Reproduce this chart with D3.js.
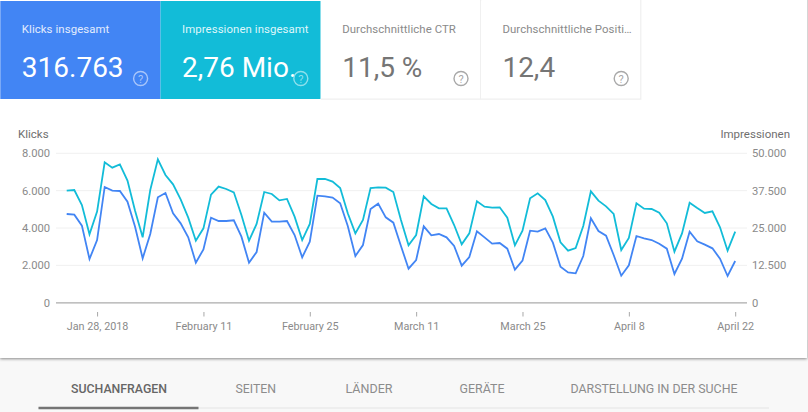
<!DOCTYPE html>
<html><head><meta charset="utf-8">
<script src="https://cdn.jsdelivr.net/npm/d3@7/dist/d3.min.js"></script>
<style>
html,body{margin:0;padding:0;background:#fff;overflow:hidden}
svg{display:block;font-family:Roboto,sans-serif}
</style></head><body><svg id="c" width="808" height="412"></svg>
<script>
const startDate = new Date(2018,0,24);
const clicks = [4750,4714,4125,2339,3357,6196,6000,5982,5411,4071,2375,3679,5643,5875,4786,4250,3500,2143,2857,4554,4375,4375,4411,3536,2143,2714,4821,4339,4339,4375,3625,2429,3268,5732,5696,5625,5321,4107,2500,3089,5018,5304,4571,4286,3036,1821,2286,4089,3607,3679,3500,3036,1982,2446,3821,3500,3161,3196,2893,1768,2250,3857,3804,3982,3214,1929,1625,1571,2500,4518,3839,3589,2554,1446,2000,3571,3446,3357,3161,2893,1536,2357,3804,3286,3107,2911,2357,1429,2232];
const impressions = [37500,37720,32700,22880,30470,46980,45200,46310,40850,30800,21870,37720,47990,42740,39620,34600,28460,20760,24890,36160,38840,38060,36940,29350,20760,26340,37050,36380,34260,34710,28790,20980,26340,41400,41400,40510,38390,29910,23210,27680,38390,38610,38500,37050,27680,19200,22650,35600,33030,31580,31580,26000,19530,23210,33930,32140,31810,31920,28460,19200,24100,34930,36600,34370,28790,20200,17410,18300,25670,37270,34150,32250,29690,17630,21650,33260,31470,31360,30130,26560,17070,23210,33480,31690,30020,30580,25220,17410,23770];
const leftTicks = [0,2000,4000,6000,8000];
const rightTicks = [0,12500,25000,37500,50000];
const dateTicks = [new Date(2018,0,28),new Date(2018,1,11),new Date(2018,1,25),new Date(2018,2,11),new Date(2018,2,25),new Date(2018,3,8),new Date(2018,3,22)];
const dateLabels = ["Jan 28, 2018","February 11","February 25","March 11","March 25","April 8","April 22"];
const cards = [
 {t:"Klicks insgesamt",v:"316.763",bg:"#4285f4",fg:"#fff",tf:"#e3ecfd",ic:"#a9c6fa"},
 {t:"Impressionen insgesamt",v:"2,76 Mio.",bg:"#12bcd8",fg:"#fff",tf:"#dff6fa",ic:"#8fe0ec"},
 {t:"Durchschnittliche CTR",v:"11,5 %",bg:"#fff",fg:"#757575",tf:"#8a8a8a",ic:"#a8a8a8"},
 {t:"Durchschnittliche Positi\u2026",v:"12,4",bg:"#fff",fg:"#757575",tf:"#8a8a8a",ic:"#a8a8a8"}];
const tabs = ["SUCHANFRAGEN","SEITEN","L\u00c4NDER","GER\u00c4TE","DARSTELLUNG IN DER SUCHE"];
const tabX = [71,235.5,345.5,459.5,570.5];
const tabW = [96,40.5,47,45,167];

const svg = d3.select("#c");
const defs = svg.append("defs");
const f = defs.append("filter").attr("id","sh").attr("x","-5%").attr("y","-5%").attr("width","110%").attr("height","110%");
f.append("feDropShadow").attr("dx",0).attr("dy",1).attr("stdDeviation",1.5).attr("flood-color","#000").attr("flood-opacity",0.45);

svg.append("rect").attr("x",0).attr("y",340).attr("width",808).attr("height",72).attr("fill","#f8f8f8");
svg.append("rect").attr("x",0).attr("y",-10).attr("width",807).attr("height",368).attr("fill","#fff").attr("filter","url(#sh)");

const cw = 160.2;
const g = svg.selectAll("g.card").data(cards).join("g").attr("class","card").attr("transform",(d,i)=>`translate(${i*cw+0.3},0)`);
g.append("rect").attr("x",0).attr("y",1).attr("width",cw).attr("height",98).attr("fill",d=>d.bg);
g.filter(d=>d.bg==="#fff").append("path").attr("d",`M${cw-0.3},0V99.2H0`).attr("fill","none").attr("stroke","#efefef").attr("stroke-width",1.2);
g.append("text").attr("x",21.5).attr("y",33).attr("font-size",11.4).attr("letter-spacing",0.08).attr("fill",d=>d.tf).text(d=>d.t);
g.append("text").attr("x",21.5).attr("y",77).attr("font-size",28).attr("fill",d=>d.fg).text(d=>d.v);
g.append("circle").attr("cx",140.3).attr("cy",78.5).attr("r",7).attr("fill","none").attr("stroke",d=>d.ic).attr("stroke-width",1.4);
g.append("text").attr("x",140.3).attr("y",82.5).attr("font-size",11).attr("text-anchor","middle").attr("fill",d=>d.ic).text("?");

const x = d3.scaleTime().domain([startDate,dateTicks[6]]).range([66.7,735.2]);
const yL = d3.scaleLinear().domain([0,8000]).range([302.7,153.3]);
const yR = d3.scaleLinear().domain([0,50000]).range([302.7,153.3]);
const dateAt = i => d3.timeDay.offset(startDate,i);

const axL = svg.append("g").attr("transform","translate(56,0)")
  .call(d3.axisLeft(yL).tickValues(leftTicks).tickSize(0).tickPadding(6).tickFormat(d=>d3.format(",")(d).replace(/,/g,".")));
axL.select(".domain").remove();
axL.selectAll("text").attr("font-family","Roboto").attr("font-size",11.2).attr("fill","#8a8a8a");
const axR = svg.append("g").attr("transform","translate(745,0)")
  .call(d3.axisRight(yR).tickValues(rightTicks).tickSize(0).tickPadding(7).tickFormat(d=>d3.format(",")(d).replace(/,/g,".")));
axR.select(".domain").remove();
axR.selectAll("text").attr("font-family","Roboto").attr("font-size",11.2).attr("fill","#8a8a8a");

svg.append("g").selectAll("line").data(leftTicks.slice(1)).join("line")
  .attr("x1",56).attr("x2",747).attr("y1",d=>yL(d)).attr("y2",d=>yL(d)).attr("stroke","#f0f0f0").attr("stroke-width",1);
svg.append("line").attr("x1",56).attr("x2",747).attr("y1",yL(0)+0.2).attr("y2",yL(0)+0.2).attr("stroke","#ababab").attr("stroke-width",1.2);

const axB = svg.append("g").attr("transform","translate(0,312)")
  .call(d3.axisBottom(x).tickValues(dateTicks).tickSize(4.5).tickPadding(6).tickFormat((d,i)=>dateLabels[i]));
axB.select(".domain").remove();
axB.selectAll("line").attr("stroke","#a8a8a8");
axB.selectAll("text").attr("font-family","Roboto").attr("font-size",10.8).attr("fill","#8a8a8a");

svg.append("text").attr("x",18).attr("y",137.5).attr("font-size",11.5).attr("fill","#6f6f6f").text("Klicks");
svg.append("text").attr("x",790).attr("y",137.5).attr("font-size",11.5).attr("text-anchor","end").attr("fill","#6f6f6f").text("Impressionen");

const lineL = d3.line().x((d,i)=>x(dateAt(i))).y(d=>yL(d));
const lineR = d3.line().x((d,i)=>x(dateAt(i))).y(d=>yR(d));
svg.append("path").datum(impressions).attr("d",lineR).attr("fill","none").attr("stroke","#12bcd8").attr("stroke-width",1.8);
svg.append("path").datum(clicks).attr("d",lineL).attr("fill","none").attr("stroke","#4285f4").attr("stroke-width",1.8);

svg.selectAll("text.tab").data(tabs).join("text").attr("class","tab")
  .attr("x",(d,i)=>tabX[i]).attr("y",392.5).attr("font-size",12.5)
  .attr("textLength",(d,i)=>tabW[i]).attr("lengthAdjust","spacingAndGlyphs")
  .attr("font-weight",(d,i)=>i===0?500:400)
  .attr("fill",(d,i)=>i===0?"#666":"#8c8c8c").text(d=>d);
svg.append("line").attr("x1",38.5).attr("x2",769).attr("y1",408).attr("y2",408).attr("stroke","#e4e4e4").attr("stroke-width",1);
svg.append("line").attr("x1",38.5).attr("x2",198.5).attr("y1",408).attr("y2",408).attr("stroke","#757575").attr("stroke-width",2.4);
</script></body></html>
